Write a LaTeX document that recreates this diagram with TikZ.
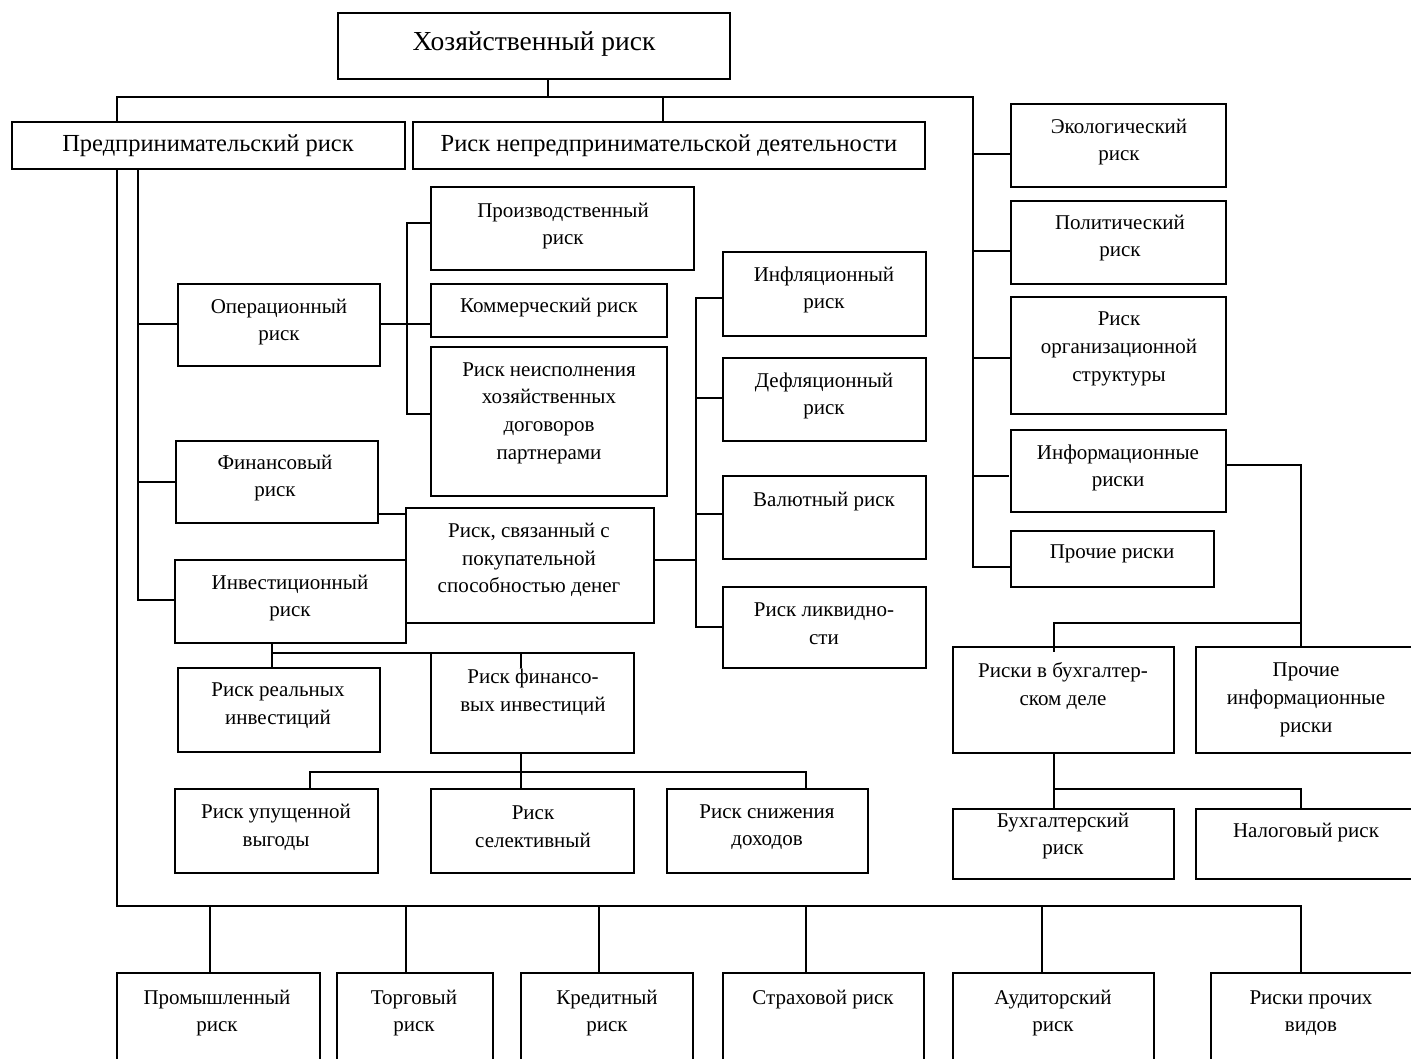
\documentclass[tikz,border=0pt]{standalone}
\usepackage{fontspec}
\setmainfont{Liberation Serif}
\newcommand\bx[5]{\node[box, anchor=north west, minimum width={#4-#2}, minimum height={#5-#3}] (#1) at (#2,#3) {};}
\newcommand\tx[4]{\node[txt] (#1) at (#2,#3) {#4};}
\begin{document}
\begin{tikzpicture}[x=1pt,y=-1pt,
  box/.style={draw, line width=1.8pt, fill=white, inner sep=0pt, outer sep=0pt},
  txt/.style={align=center, font=\fontsize{21}{27.7}\selectfont, inner sep=0pt},
  big/.style={font=\fontsize{24.5}{28}\selectfont},
  conn/.style={line width=1.6pt, line cap=rect}]
\useasboundingbox (0,0) rectangle (1411,1059);
\clip (0,0) rectangle (1411,1059);
% boxes
\bx{top}{338}{13}{730}{79}
\bx{pred}{12}{122}{405}{169}
\bx{nepred}{413}{122}{925}{169}
\bx{eco}{1011}{104}{1226}{187}
\bx{pol}{1011}{201}{1226}{284}
\bx{org}{1011}{297}{1226}{414}
\bx{inf}{1011}{430}{1226}{512}
\bx{proch}{1011}{531}{1214}{587}
\bx{buhdel}{953}{647}{1174}{753}
\bx{prinf}{1196}{647}{1420}{753}
\bx{buh}{953}{809}{1174}{879}
\bx{nalog}{1196}{809}{1420}{879}
\bx{oper}{178}{284}{380}{366}
\bx{fin}{176}{441}{378}{523}
\bx{inv}{175}{560}{406}{643}
\bx{proizv}{431}{187}{694}{270}
\bx{komm}{431}{284}{667}{337}
\bx{neisp}{431}{347}{667}{496}
\bx{svyaz}{406}{508}{654}{623}
\bx{real}{178}{668}{380}{752}
\bx{finv}{431}{653}{634}{753}
\bx{upush}{175}{789}{378}{873}
\bx{selek}{431}{789}{634}{873}
\bx{snizh}{667}{789}{868}{873}
\bx{infl}{723}{252}{926}{336}
\bx{defl}{723}{358}{926}{441}
\bx{val}{723}{476}{926}{559}
\bx{likv}{723}{587}{926}{668}
\bx{prom}{117}{973}{320}{1090}
\bx{torg}{337}{973}{493}{1090}
\bx{kred}{521}{973}{693}{1090}
\bx{strah}{723}{973}{924}{1090}
\bx{audit}{953}{973}{1154}{1090}
\bx{prvid}{1211}{973}{1420}{1090}
% texts
\node[txt, font=\fontsize{27.5}{32}\selectfont] (top-t) at (534,44) {Хозяйственный риск};
\node[txt, big] (pred-t) at (208,146) {Предпринимательский риск};
\node[txt, big] (nepred-t) at (669,146) {Риск непредпринимательской деятельности};
\tx{eco-t}{1119}{142}{Экологический\\риск}
\tx{pol-t}{1120}{238}{Политический\\риск}
\tx{org-t}{1119}{349}{Риск\\организационной\\структуры}
\tx{inf-t}{1118}{468}{Информационные\\риски}
\tx{proch-t}{1112}{554}{Прочие риски}
\tx{buhdel-t}{1063}{686}{Риски в бухгалтер-\\ском деле}
\tx{prinf-t}{1306}{700}{Прочие\\информационные\\риски}
\tx{buh-t}{1063}{836}{Бухгалтерский\\риск}
\tx{nalog-t}{1306}{833}{Налоговый риск}
\tx{oper-t}{279}{322}{Операционный\\риск}
\tx{fin-t}{275}{478}{Финансовый\\риск}
\tx{inv-t}{290}{598}{Инвестиционный\\риск}
\tx{proizv-t}{563}{226}{Производственный\\риск}
\tx{komm-t}{549}{308}{Коммерческий риск}
\tx{neisp-t}{549}{413}{Риск неисполнения\\хозяйственных\\договоров\\партнерами}
\tx{svyaz-t}{529}{560}{Риск, связанный с\\покупательной\\способностью денег}
\tx{real-t}{278}{706}{Риск реальных\\инвестиций}
\tx{finv-t}{533}{692}{Риск финансо-\\вых инвестиций}
\tx{upush-t}{276}{827}{Риск упущенной\\выгоды}
\tx{selek-t}{533}{827}{Риск\\селективный}
\tx{snizh-t}{767}{827}{Риск снижения\\доходов}
\tx{infl-t}{824}{290}{Инфляционный\\риск}
\tx{defl-t}{824}{396}{Дефляционный\\риск}
\tx{val-t}{824}{502}{Валютный риск}
\tx{likv-t}{824}{624}{Риск ликвидно-\\сти}
\tx{prom-t}{217}{1013}{Промышленный\\риск}
\tx{torg-t}{414}{1013}{Торговый\\риск}
\tx{kred-t}{607}{1013}{Кредитный\\риск}
\tx{strah-t}{823}{1000}{Страховой риск}
\tx{audit-t}{1053}{1013}{Аудиторский\\риск}
\tx{prvid-t}{1311}{1013}{Риски прочих\\видов}
% connectors: top level
\coordinate (b0) at (548,97);
\coordinate (bL) at (117,97);
\coordinate (bR) at (973,97);
\coordinate (np) at (663,97);
\draw[conn] (b0 |- top.south) -- (b0);
\draw[conn] (pred.north -| bL) -- (bL) -- (bR);
\draw[conn] (np) -- (np |- nepred.north);
% right column
\coordinate (r1) at (973,154);
\coordinate (r2) at (973,251);
\coordinate (r3) at (973,358);
\coordinate (r4) at (973,476);
\coordinate (r5) at (973,567);
\draw[conn] (bR) -- (r5) -- (r5 -| proch.west);
\draw[conn] (r1) -- (r1 -| eco.west);
\draw[conn] (r2) -- (r2 -| pol.west);
\draw[conn] (r3) -- (r3 -| org.west);
\draw[conn] (r4) -- ([xshift=-3pt]r4 -| inf.west);
% information risks
\coordinate (ir) at (1301,465);
\coordinate (ib) at (1301,623);
\coordinate (ib2) at (1054,623);
\draw[conn] (ir -| inf.east) -- (ir) -- (ir |- prinf.north);
\draw[conn] (ib) -- (ib2) -- ([yshift=-4pt]ib2 |- buhdel.north);
\coordinate (bb) at (1054,789);
\coordinate (bb2) at (1301,789);
\draw[conn] (bb |- buhdel.south) -- (bb |- buh.north);
\draw[conn] (bb) -- (bb2) -- (bb2 |- nalog.north);
% left outer line and bottom bus
\coordinate (lb) at (117,906);
\coordinate (rb) at (1301,906);
\draw[conn] (pred.south -| lb) -- (lb) -- (rb) -- (rb |- prvid.north);
\foreach \x/\n in {210/prom,406/torg,599/kred,806/strah,1042/audit}{
  \coordinate (t\n) at (\x,906);
  \draw[conn] (t\n) -- (t\n |- \n.north);
}
% left spine
\coordinate (s0) at (138,600);
\coordinate (s1) at (138,324);
\coordinate (s2) at (138,482);
\draw[conn, line width=2.2pt] (s0 |- pred.south) -- (s0) -- (s0 -| inv.west);
\draw[conn] (s1) -- (s1 -| oper.west);
\draw[conn, line width=2.2pt] (s2) -- (s2 -| fin.west);
% operational
\coordinate (o0) at (407,223);
\coordinate (o1) at (407,324);
\coordinate (o2) at (407,414);
\draw[conn] (o1 -| oper.east) -- (o1 -| komm.west);
\draw[conn] (o0 -| proizv.west) -- (o0) -- (o2) -- (o2 -| neisp.west);
% financial -> purchasing power
\coordinate (f1) at (392,514);
\draw[conn] (f1 -| fin.east) -- (f1 -| svyaz.west);
% middle spine
\coordinate (v1) at (696,560);
\coordinate (m0) at (696,298);
\coordinate (m1) at (696,398);
\coordinate (m2) at (696,514);
\coordinate (m3) at (696,627);
\draw[conn] (v1 -| svyaz.east) -- (v1);
\draw[conn] (m0 -| infl.west) -- (m0) -- (m3) -- (m3 -| likv.west);
\draw[conn] (m1) -- (m1 -| defl.west);
\draw[conn] (m2) -- (m2 -| val.west);
% investment
\coordinate (i1) at (272,653);
\coordinate (i2) at (521,653);
\coordinate (i3) at (521,667);
\draw[conn] (i1 |- inv.south) -- (i1 |- real.north);
\draw[conn] (i1) -- (i1 -| finv.west);
\draw[conn] (i2) -- (i3);
% financial investments
\coordinate (g1) at (521,772);
\coordinate (gL) at (310,772);
\coordinate (gR) at (806,772);
\draw[conn] (g1 |- finv.south) -- (g1 |- selek.north);
\draw[conn] (gL |- upush.north) -- (gL) -- (gR) -- (gR |- snizh.north);
\end{tikzpicture}
\end{document}
